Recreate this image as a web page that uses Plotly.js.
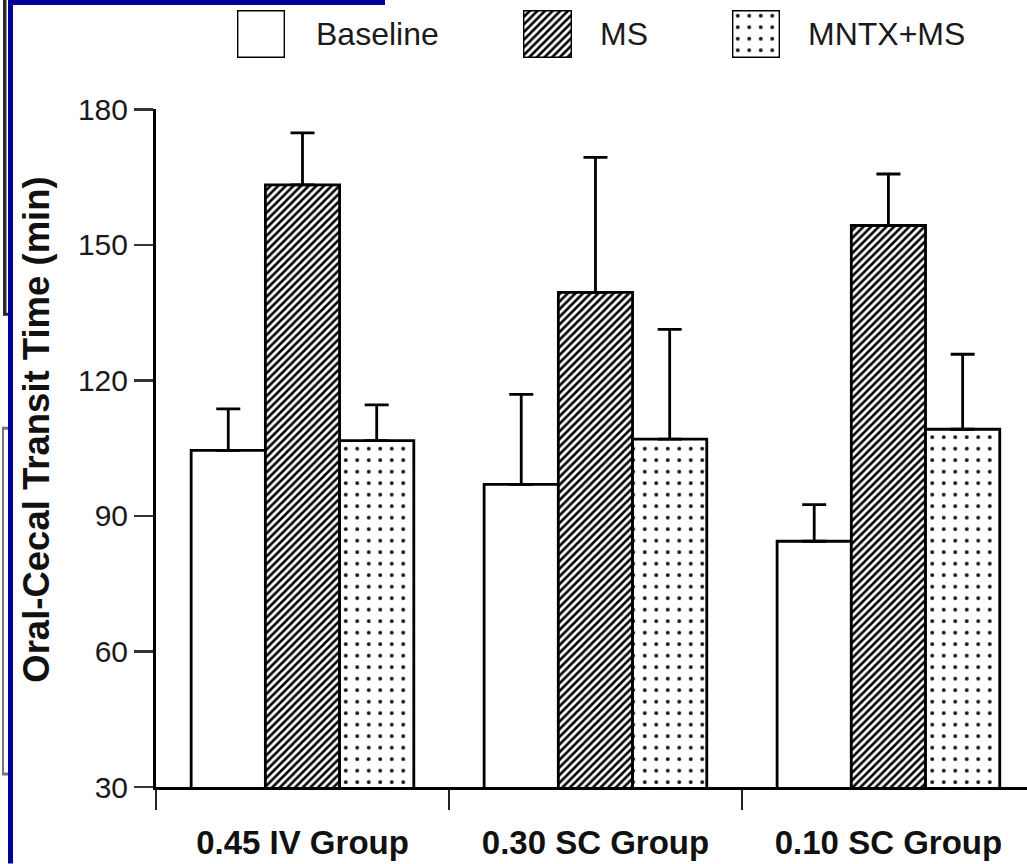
<!DOCTYPE html>
<html>
<head>
<meta charset="utf-8">
<script src="https://cdn.plot.ly/plotly-3.0.1.min.js"></script>
<style>
  html, body { margin: 0; padding: 0; background: #ffffff; }
  #chart { width: 1027px; height: 864px; }
</style>
</head>
<body>
<div id="chart"></div>
<script>
// ---- data ----
const categories = ['0.45 IV Group', '0.30 SC Group', '0.10 SC Group'];
const seriesNames = ['Baseline', 'MS', 'MNTX+MS'];
const baselineVals = [104.5, 97.0, 84.4];
const baselineErr  = [9.2, 19.9, 8.1];
const msVals       = [163.3, 139.5, 154.3];
const msErr        = [11.5, 29.9, 11.4];
const mntxVals     = [106.7, 107.0, 109.2];
const mntxErr      = [7.9, 24.3, 16.6];
const yTicks       = [30, 60, 90, 120, 150, 180];
const yTitle       = 'Oral-Cecal Transit Time (min)';

// ---- geometry helpers (pixel -> paper) ----
const W = 1027, H = 864, ML = 156, MB = 76.5;
const PW = W - ML, PH = H - MB;
const px = x => (x - ML) / PW;
const py = y => (PH - y) / PH;

const FONT = 'Liberation Sans, Arial, Helvetica, sans-serif';
const outline = { color: '#000000', width: 2.8 };

const markerStyles = [
  { color: '#ffffff', line: outline },
  { color: '#ffffff', line: outline,
    pattern: { shape: '/', size: 5.4, solidity: 0.47, fgcolor: '#000000', bgcolor: '#ffffff', fillmode: 'replace' } },
  { color: '#ffffff', line: outline,
    pattern: { shape: '.', size: 11.5, solidity: 0.09, fgcolor: '#111111', bgcolor: '#ffffff', fillmode: 'replace' } }
];

const vals = [baselineVals, msVals, mntxVals];
const errs = [baselineErr, msErr, mntxErr];

const traces = [];
for (let i = 0; i < 3; i++) {
  traces.push({
    type: 'bar',
    name: seriesNames[i],
    x: categories,
    y: vals[i],
    marker: markerStyles[i],
    error_y: {
      type: 'data', symmetric: false,
      array: errs[i], arrayminus: errs[i].map(() => 0),
      color: '#000000', thickness: 2.8, width: 12
    },
    showlegend: false,
    hoverinfo: 'x+y'
  });
}

// legend swatches drawn as bars on their own small axes
const legendDomains = [[237, 285], [523, 572], [732, 780]];
const legendShift = [29, 26, 26];
const annotations = [];
for (let i = 0; i < 3; i++) {
  const ax = 'x' + (i + 2);
  traces.push({
    type: 'bar',
    x: [seriesNames[i]],
    y: [1],
    width: [1],
    xaxis: ax, yaxis: 'y2',
    marker: markerStyles[i],
    showlegend: false,
    hoverinfo: 'skip'
  });
  annotations.push({
    xref: ax + ' domain', yref: 'y2 domain', x: 1, y: 0.5,
    xanchor: 'left', yanchor: 'middle', xshift: legendShift[i],
    text: seriesNames[i], showarrow: false,
    font: { family: FONT, size: 32, color: '#1a1a1a' }
  });
}

annotations.push({
  xref: 'paper', yref: 'paper', x: px(37), y: py(430),
  xanchor: 'center', yanchor: 'middle', textangle: -90,
  text: yTitle, showarrow: false,
  font: { family: FONT, size: 36.5, color: '#111111', weight: 'bold' }
});

const shapes = [
  // blue frame (left and top)
  { type: 'rect', xref: 'paper', yref: 'paper', x0: px(8), x1: px(13), y0: py(H), y1: py(0),
    fillcolor: '#000096', line: { width: 0 }, layer: 'above' },
  { type: 'rect', xref: 'paper', yref: 'paper', x0: px(8), x1: px(385), y0: py(5), y1: py(0),
    fillcolor: '#000096', line: { width: 0 }, layer: 'above' },
  // scan edge marks at far left
  { type: 'rect', xref: 'paper', yref: 'paper', x0: px(3), x1: px(6.5), y0: py(314), y1: py(0),
    fillcolor: '#2a2a2a', line: { width: 0 } },
  { type: 'rect', xref: 'paper', yref: 'paper', x0: px(3), x1: px(8), y0: py(316), y1: py(313),
    fillcolor: '#2a2a2a', line: { width: 0 } },
  { type: 'rect', xref: 'paper', yref: 'paper', x0: px(2), x1: px(4), y0: py(775), y1: py(428),
    fillcolor: '#777777', line: { width: 0 } },
  { type: 'rect', xref: 'paper', yref: 'paper', x0: px(2), x1: px(8), y0: py(430), y1: py(427),
    fillcolor: '#777777', line: { width: 0 } },
  { type: 'rect', xref: 'paper', yref: 'paper', x0: px(2), x1: px(8), y0: py(776), y1: py(773),
    fillcolor: '#777777', line: { width: 0 } }
];

const hidden = { visible: false, fixedrange: true };

const layout = {
  width: W, height: H,
  margin: { l: ML, r: 0, t: 0, b: MB, pad: 0 },
  paper_bgcolor: '#ffffff',
  plot_bgcolor: '#ffffff',
  barmode: 'group',
  bargap: 0.24,
  bargroupgap: 0,
  showlegend: false,
  font: { family: FONT, color: '#1a1a1a' },
  xaxis: {
    type: 'category',
    categoryorder: 'array', categoryarray: categories,
    range: [-0.5, 2.473],
    domain: [0, 1],
    showline: true, linecolor: '#000000', linewidth: 3,
    ticks: 'outside', tickson: 'boundaries', ticklen: 20, tickwidth: 2.5, tickcolor: '#222222',
    ticklabelstandoff: 24,
    showgrid: false, zeroline: false,
    tickfont: { family: FONT, size: 33, color: '#111111', weight: 'bold' },
    fixedrange: true
  },
  yaxis: {
    range: [30, 180],
    domain: [0, py(109.5)],
    tickvals: yTicks,
    ticktext: yTicks.map(String),
    showline: true, linecolor: '#000000', linewidth: 3,
    ticks: 'outside', ticklen: 19, tickwidth: 2.5, tickcolor: '#333333',
    showgrid: false, zeroline: false,
    tickfont: { family: FONT, size: 30, color: '#1a1a1a' },
    fixedrange: true
  },
  xaxis2: Object.assign({ domain: [px(legendDomains[0][0]), px(legendDomains[0][1])], range: [-0.5, 0.5], anchor: 'y2', type: 'category' }, hidden),
  xaxis3: Object.assign({ domain: [px(legendDomains[1][0]), px(legendDomains[1][1])], range: [-0.5, 0.5], anchor: 'y2', type: 'category' }, hidden),
  xaxis4: Object.assign({ domain: [px(legendDomains[2][0]), px(legendDomains[2][1])], range: [-0.5, 0.5], anchor: 'y2', type: 'category' }, hidden),
  yaxis2: Object.assign({ domain: [py(58), py(10)], range: [0, 1], anchor: 'x2' }, hidden),
  annotations: annotations,
  shapes: shapes
};

Plotly.newPlot('chart', traces, layout, { displayModeBar: false, staticPlot: true });
</script>
</body>
</html>
